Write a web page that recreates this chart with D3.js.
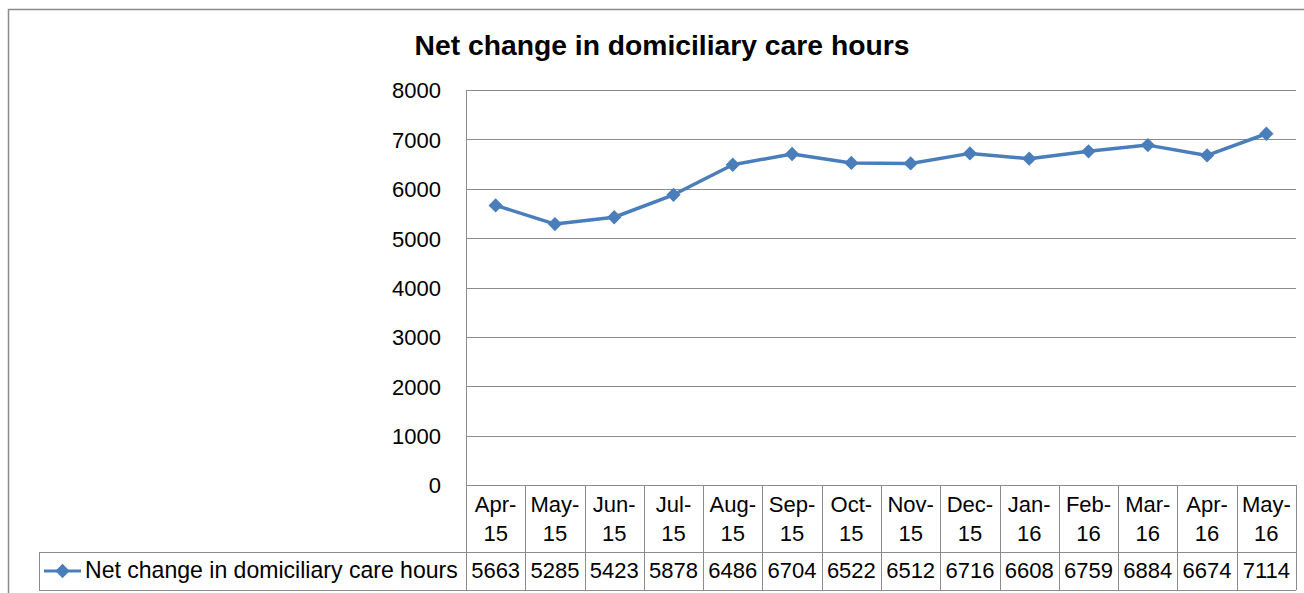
<!DOCTYPE html>
<html>
<head>
<meta charset="utf-8">
<script src="https://cdn.jsdelivr.net/npm/d3@7"></script>
<style>
  body { margin: 0; background: #fff; }
  svg text { font-family: "Liberation Sans", Arial, sans-serif; fill: #000; }
</style>
</head>
<body>
<div id="chart"></div>
<script>
// data
var months = ["Apr-15", "May-15", "Jun-15", "Jul-15", "Aug-15", "Sep-15", "Oct-15",
              "Nov-15", "Dec-15", "Jan-16", "Feb-16", "Mar-16", "Apr-16", "May-16"];
var hours = [5663, 5285, 5423, 5878, 6486, 6704, 6522, 6512, 6716, 6608, 6759, 6884, 6674, 7114];
var yTicks = [0, 1000, 2000, 3000, 4000, 5000, 6000, 7000, 8000];
var seriesName = "Net change in domiciliary care hours";
var title = "Net change in domiciliary care hours";

var width = 1304, height = 593;
var plotLeft = 466, plotRight = 1296, plotTop = 90, plotBottom = 485;
var row1 = 552, row2 = 590, legendLeft = 39;
var blue = "#4a7ebb", grid = "#8c8c8c";

var svg = d3.select("#chart").append("svg")
    .attr("width", width)
    .attr("height", height);

// outer chart border
svg.append("rect")
    .attr("x", 8.5).attr("y", 9.5)
    .attr("width", 1310).attr("height", 610)
    .attr("fill", "none").attr("stroke", "#8a8a8a").attr("stroke-width", 1.5);

var x = d3.scaleBand().domain(months).range([plotLeft, plotRight]);
var y = d3.scaleLinear().domain([0, 8000]).range([plotBottom, plotTop]);

// fit a text element to a given width by changing font size
function fitText(sel, w) {
  var n = sel.node();
  var fs = parseFloat(sel.attr("font-size"));
  sel.attr("font-size", fs * w / n.getComputedTextLength());
}

// title
var t = svg.append("text")
    .attr("x", 662).attr("y", 55)
    .attr("text-anchor", "middle")
    .attr("font-weight", "bold")
    .attr("font-size", 26)
    .text(title);
fitText(t, 495);

// grid lines
svg.append("g")
  .selectAll("line")
  .data(yTicks)
  .enter()
  .append("line")
  .attr("x1", plotLeft).attr("x2", plotRight)
  .attr("y1", d => Math.round(y(d)) + 0.5)
  .attr("y2", d => Math.round(y(d)) + 0.5)
  .attr("stroke", grid).attr("stroke-width", 1);

// y axis labels
var yAxis = svg.append("g")
    .attr("transform", "translate(" + (plotLeft - 13) + ",0)")
    .call(d3.axisLeft(y).tickValues(yTicks).tickFormat(d3.format("d")).tickSize(0).tickPadding(12));
yAxis.select(".domain").remove();
yAxis.attr("font-family", null).attr("font-size", null);
yAxis.selectAll("text")
    .attr("font-size", 22)
    .attr("dy", "0.36em");

// table lines
var tbl = svg.append("g").attr("stroke", grid).attr("stroke-width", 1);
tbl.append("line").attr("x1", plotLeft + 0.5).attr("x2", plotLeft + 0.5).attr("y1", plotTop).attr("y2", row2);
tbl.append("line").attr("x1", legendLeft).attr("x2", plotRight).attr("y1", row1 + 0.5).attr("y2", row1 + 0.5);
tbl.append("line").attr("x1", legendLeft).attr("x2", plotRight).attr("y1", row2 + 0.5).attr("y2", row2 + 0.5);
tbl.append("line").attr("x1", legendLeft + 0.5).attr("x2", legendLeft + 0.5).attr("y1", row1).attr("y2", row2);
tbl.selectAll(".col")
  .data(months)
  .enter()
  .append("line")
  .attr("class", "col")
  .attr("x1", d => Math.round(x(d) + x.bandwidth()) + 0.5)
  .attr("x2", d => Math.round(x(d) + x.bandwidth()) + 0.5)
  .attr("y1", plotBottom).attr("y2", row2);

// category labels (two lines)
var cats = svg.append("g").selectAll("g")
  .data(months)
  .enter()
  .append("g")
  .attr("transform", d => "translate(" + (x(d) + x.bandwidth() / 2) + ",0)");
cats.append("text")
  .attr("y", 512).attr("text-anchor", "middle").attr("font-size", 22)
  .text(d => d.split("-")[0] + "-");
cats.append("text")
  .attr("y", 541).attr("text-anchor", "middle").attr("font-size", 22)
  .text(d => d.split("-")[1]);

// values row
svg.append("g").selectAll("text")
  .data(hours)
  .enter()
  .append("text")
  .attr("x", (d, i) => x(months[i]) + x.bandwidth() / 2)
  .attr("y", 578)
  .attr("text-anchor", "middle")
  .attr("font-size", 22)
  .text(d => d);

// legend key
var diamond = d3.symbol().type(d3.symbolDiamond2).size(130);
svg.append("line")
  .attr("x1", 44).attr("x2", 81).attr("y1", 571).attr("y2", 571)
  .attr("stroke", blue).attr("stroke-width", 3);
svg.append("path")
  .attr("d", diamond)
  .attr("transform", "translate(62.5,571)")
  .attr("fill", blue);
var lt = svg.append("text")
  .attr("x", 85).attr("y", 578)
  .attr("font-size", 22)
  .text(seriesName);
fitText(lt, 373);

// series line
var line = d3.line()
  .x((d, i) => x(months[i]) + x.bandwidth() / 2)
  .y(d => y(d));

svg.append("path")
  .datum(hours)
  .attr("d", line)
  .attr("fill", "none")
  .attr("stroke", blue)
  .attr("stroke-width", 3.5)
  .attr("stroke-linejoin", "round");

svg.append("g").selectAll("path")
  .data(hours)
  .enter()
  .append("path")
  .attr("d", diamond)
  .attr("transform", (d, i) => "translate(" + (x(months[i]) + x.bandwidth() / 2) + "," + y(d) + ")")
  .attr("fill", blue);
</script>
</body>
</html>
